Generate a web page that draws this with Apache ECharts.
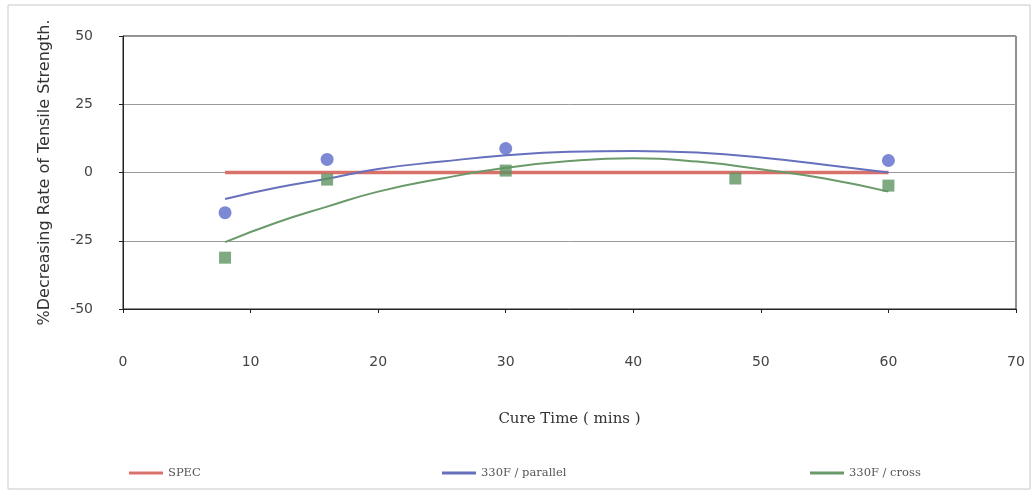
<!DOCTYPE html>
<html>
<head>
<meta charset="utf-8">
<script src="https://cdn.jsdelivr.net/npm/echarts@6/dist/echarts.min.js"></script>
<style>html,body{margin:0;padding:0;background:#fff}#c{width:1034px;height:491px}</style>
</head>
<body>
<div id="c"></div>
<script>
// Data
const specX = [8, 60];
const specY = [0, 0];
const trendX = [8, 12, 16, 20, 25, 30, 35, 40, 45, 50, 55, 60];
const parallelTrend = [-9.7, -5.6, -2.3, 1.3, 4.0, 6.3, 7.6, 7.9, 7.3, 5.5, 2.8, 0.0];
const crossTrend = [-25.5, -18.4, -12.5, -7.0, -2.2, 1.7, 4.2, 5.2, 4.0, 1.2, -2.2, -7.0];
const parallelX = [8, 16, 30, 60];
const parallelY = [-14.7, 4.8, 8.8, 4.4];
const crossX = [8, 16, 30, 48, 60];
const crossY = [-31.2, -2.6, 0.7, -2.2, -4.8];
const xTicks = [0, 10, 20, 30, 40, 50, 60, 70];
const yTicks = [-50, -25, 0, 25, 50];

const zip = (xs, ys) => xs.map((x, i) => [x, ys[i]]);

const chart = echarts.init(document.getElementById('c'));
const legendBase = {
  top: 462, itemWidth: 34, itemHeight: 3, itemGap: 4,
  icon: 'rect',
  textStyle: {fontFamily: 'DejaVu Serif', fontSize: 11.5, color: '#555'}
};
chart.setOption({
  animation: false,
  graphic: [{
    type: 'rect', shape: {x: 8, y: 5, width: 1022, height: 484},
    style: {fill: 'none', stroke: '#c8c8c8', lineWidth: 1}, silent: true
  }],
  grid: {left: 123, right: 18, top: 36, bottom: 182, show: true, borderColor: '#222', borderWidth: 1},
  legend: [
    Object.assign({}, legendBase, {left: 124, data: ['SPEC']}),
    Object.assign({}, legendBase, {left: 437, data: ['330F / parallel']}),
    Object.assign({}, legendBase, {left: 805, data: ['330F / cross']})
  ],
  xAxis: {
    type: 'value', min: 0, max: 70, interval: 10,
    name: 'Cure Time ( mins )', nameLocation: 'middle', nameGap: 103,
    nameTextStyle: {fontFamily: 'DejaVu Serif', fontSize: 15, color: '#333'},
    axisLine: {show: true, onZero: false, lineStyle: {color: '#222'}},
    axisTick: {show: true, length: 4, lineStyle: {color: '#222'}},
    axisLabel: {margin: 46, fontFamily: 'DejaVu Sans', fontSize: 14, color: '#444',
      formatter: v => xTicks.includes(v) ? String(v) : ''},
    splitLine: {show: false}
  },
  yAxis: {
    type: 'value', min: -50, max: 50, interval: 25,
    name: '%Decreasing Rate of Tensile Strength.', nameLocation: 'middle', nameGap: 70,
    nameTextStyle: {fontFamily: 'DejaVu Sans', fontSize: 16, color: '#333'},
    axisLine: {show: true, lineStyle: {color: '#222'}},
    axisTick: {show: true, length: 4, lineStyle: {color: '#222'}},
    axisLabel: {margin: 30, fontFamily: 'DejaVu Sans', fontSize: 14, color: '#444',
      formatter: v => yTicks.includes(v) ? String(v) : ''},
    splitLine: {show: true, lineStyle: {color: '#999', width: 1}}
  },
  series: [
    {name: 'SPEC', type: 'line', data: zip(specX, specY), symbol: 'none',
      lineStyle: {color: '#d9716b', width: 3.5}, itemStyle: {color: '#d9716b'}, z: 2},
    {name: '330F / parallel', type: 'line', data: zip(trendX, parallelTrend), symbol: 'none', smooth: true,
      lineStyle: {color: '#6670bd', width: 2}, itemStyle: {color: '#6670bd'}, z: 3},
    {name: '330F / cross', type: 'line', data: zip(trendX, crossTrend), symbol: 'none', smooth: true,
      lineStyle: {color: '#6a9a6a', width: 2}, itemStyle: {color: '#6a9a6a'}, z: 3},
    {name: 'parallel pts', type: 'scatter', data: zip(parallelX, parallelY), symbol: 'circle', symbolSize: 13,
      itemStyle: {color: '#5c6ccb'}, z: 4},
    {name: 'cross pts', type: 'scatter', data: zip(crossX, crossY), symbol: 'rect', symbolSize: 12,
      itemStyle: {color: '#5f9462'}, z: 4}
  ]
});
</script>
</body>
</html>
